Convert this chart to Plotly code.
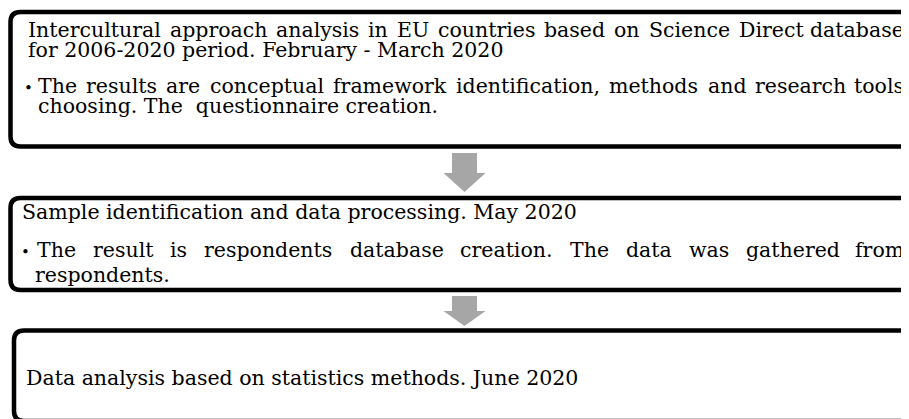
import re
import plotly.graph_objects as go

# ---- content ----
box1_title = ["Intercultural approach analysis in EU countries based on Science Direct database",
              "for 2006-2020 period. February - March 2020"]
box1_bullet = ["The results are conceptual framework identification, methods and research tools",
               "choosing. The  questionnaire creation."]
box2_title = ["Sample identification and data processing. May 2020"]
box2_bullet = ["The result is respondents database creation. The data was gathered from",
               "respondents."]
box3_title = ["Data analysis based on statistics methods. June 2020"]

W, H = 909, 419
OFF = 8  # page body margin: data coords == screen pixels
FONT = "DejaVu Serif, serif"
F = 20.5
RIGHT = 905

# approximate DejaVu Serif advance widths (1/1000 em)
TW = dict(zip("abcdefghijklmnopqrstuvwxyz",
              [596, 640, 560, 640, 592, 370, 640, 644, 320, 320, 610, 320, 948, 644, 602, 640, 640, 478, 513, 402, 644, 565, 856, 564, 565, 523]))
TW.update(dict(zip("ABCDEFGHIJKLMNOPQRSTUVWXYZ",
                   [722, 735, 765, 802, 730, 694, 799, 872, 395, 401, 747, 664, 1024, 875, 820, 673, 820, 753, 685, 667, 843, 722, 1028, 712, 660, 695])))
TW.update({c: 636 for c in "0123456789"})
TW.update({".": 318, ",": 318, "-": 338, " ": 318})


def tw(s, size=F):
    return sum(TW.get(c, 600) for c in s) / 1000.0 * size


annotations = []


def ann(text, x, baseline, xanchor="left", size=F):
    annotations.append(dict(x=x, y=baseline - 0.36 * size, xref="x", yref="y",
                            text=text, showarrow=False, xanchor=xanchor, yanchor="middle",
                            borderpad=0, font=dict(family=FONT, size=size, color="black")))


def place_line(text, x0, baseline, justify=False):
    if not justify:
        ann(text.replace("  ", " \u00a0"), x0, baseline)
        return
    words = text.split()
    gap = (RIGHT - x0 - sum(tw(w) for w in words)) / (len(words) - 1)
    x = x0
    for i, w in enumerate(words):
        if i == len(words) - 1:
            ann(w, RIGHT, baseline, xanchor="right")
        else:
            ann(w, x, baseline)
        x += tw(w) + gap


# box 1
place_line(box1_title[0], 27, 37, justify=True)
place_line(box1_title[1], 27, 57)
ann("•", 28, 93, xanchor="center", size=15)
place_line(box1_bullet[0], 37, 93, justify=True)
place_line(box1_bullet[1], 37, 113)
# box 2
place_line(box2_title[0], 21, 219)
ann("•", 25, 257, xanchor="center", size=15)
place_line(box2_bullet[0], 36, 257, justify=True)
place_line(box2_bullet[1], 34, 282)
# box 3
place_line(box3_title[0], 25, 385)


def box_path(L, T, B, R=930, r=10):
    return (f"M {R},{T} L {L + r},{T} Q {L},{T} {L},{T + r} L {L},{B - r} "
            f"Q {L},{B} {L + r},{B} L {R},{B}")


def arrow_path(cx, top, neck, tip, sw=12.5, hw=21):
    return (f"M {cx - sw},{top} L {cx + sw},{top} L {cx + sw},{neck} L {cx + hw},{neck} "
            f"L {cx},{tip} L {cx - hw},{neck} L {cx - sw},{neck} Z")


shapes = []
for (L, T, B) in [(10.5, 12, 146.5), (10.5, 198, 290), (14, 330.5, 421)]:
    shapes.append(dict(type="path", path=box_path(L, T, B), xref="x", yref="y",
                       line=dict(color="black", width=4.5), fillcolor="rgba(0,0,0,0)"))
for (top, neck, tip) in [(153, 173, 192), (296, 311, 326)]:
    shapes.append(dict(type="path", path=arrow_path(464.5, top, neck, tip), xref="x", yref="y",
                       line=dict(width=0), fillcolor="#a6a6a6"))

fig = go.Figure()
fig.update_layout(width=W, height=H, margin=dict(l=0, r=0, t=0, b=0),
                  paper_bgcolor="white", plot_bgcolor="white",
                  xaxis=dict(range=[OFF, W + OFF], visible=False, fixedrange=True),
                  yaxis=dict(range=[H + OFF, OFF], visible=False, fixedrange=True),
                  shapes=shapes, annotations=annotations, showlegend=False)
fig.write_html("out.html")
